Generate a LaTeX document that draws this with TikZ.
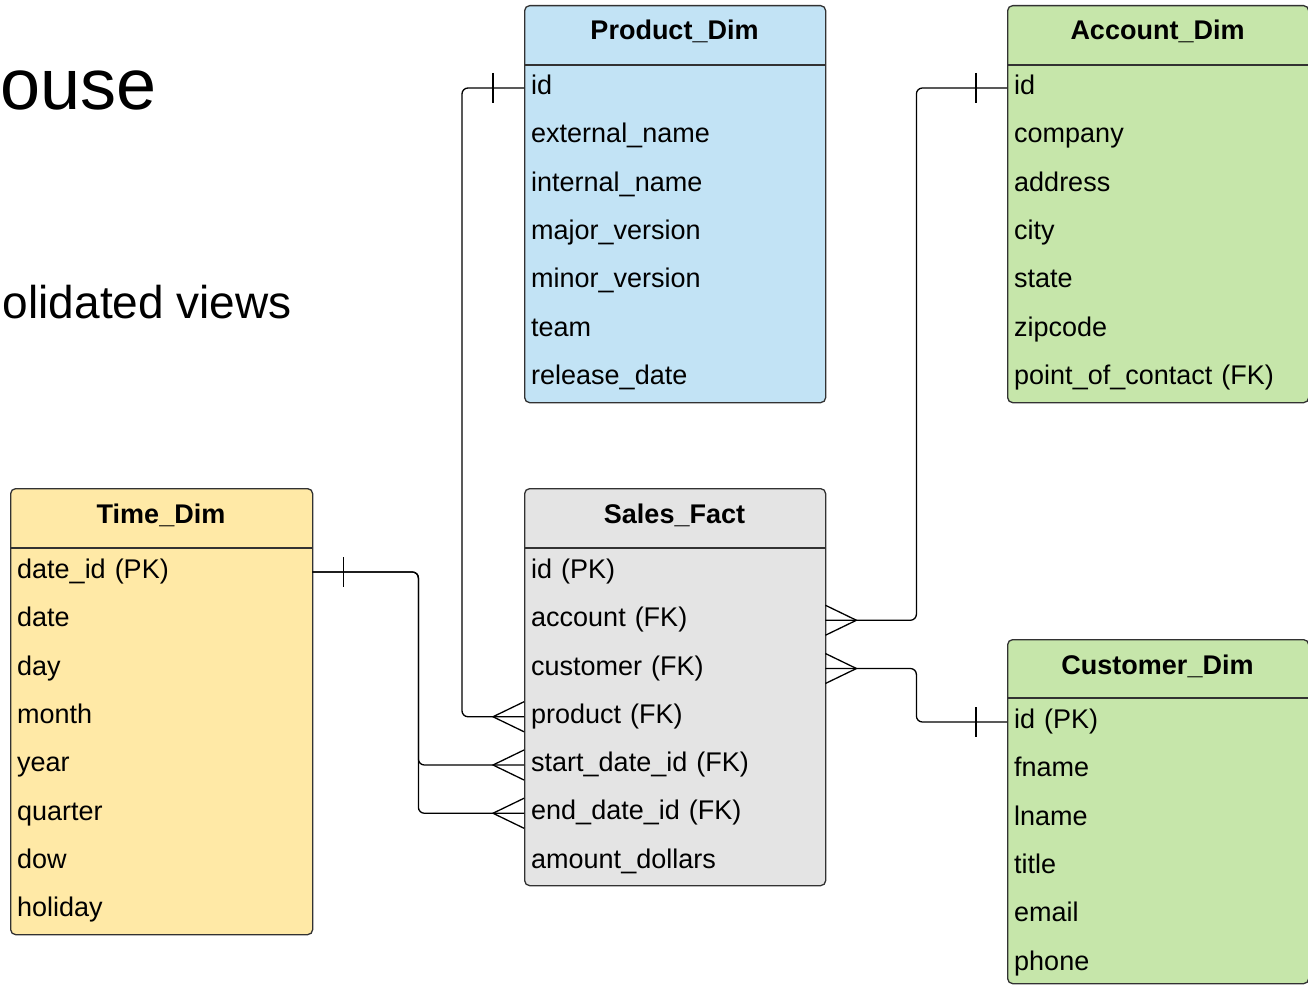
\documentclass[tikz,border=0pt]{standalone}
\usepackage{fontspec}
\setmainfont{Liberation Sans}
\definecolor{pblue}{RGB}{194,227,245}
\definecolor{pgreen}{RGB}{198,230,170}
\definecolor{pyellow}{RGB}{255,233,166}
\definecolor{pgray}{RGB}{228,228,228}
\definecolor{bord}{RGB}{50,50,50}
\begin{document}
\begin{tikzpicture}[x=1pt,y=-1pt,
  tbl/.style={draw=bord, line width=1.3pt, rounded corners=5pt, minimum width=301pt, anchor=north west, inner sep=0pt},
  row/.style={anchor=west, minimum width=301pt, minimum height=48pt, text width=287pt, inner xsep=7pt, inner ysep=0pt, text height=18pt, text depth=5pt, align=left, font=\fontsize{27}{32}\selectfont},
  ttl/.style={anchor=base, inner sep=0pt, font=\fontsize{27}{32}\selectfont\bfseries},
  big/.style={anchor=base east, inner sep=0pt},
  conn/.style={line width=1.3pt, rounded corners=6pt},
  tick/.style={line width=1.3pt}
]
\useasboundingbox (0,0) rectangle (1308,987);
\clip (0,0) rectangle (1308,987);

% heading fragments
\node[big, font=\fontsize{72}{80}\selectfont] (h1) at (157,110) {ouse};
\node[big, font=\fontsize{46}{52}\selectfont] (h2) at (292,318) {olidated views};

% Product_Dim
\node[tbl, fill=pblue, minimum height=397pt] (prod) at (524,5) {};
\draw[draw=bord, line width=1.3pt] ([yshift=-60pt]prod.north west) -- ([yshift=-60pt]prod.north east);
\node[ttl] (prodt) at (674.5,40) {Product\_Dim};
\foreach \t [count=\i] in {id,external\_name,internal\_name,major\_version,minor\_version,team,release\_date}
  \node[row] (p\i) at (524,{88+48.33*(\i-1)}) {\t};

% Account_Dim
\node[tbl, fill=pgreen, minimum height=397pt] (acct) at (1007,5) {};
\draw[draw=bord, line width=1.3pt] ([yshift=-60pt]acct.north west) -- ([yshift=-60pt]acct.north east);
\node[ttl] (acctt) at (1157.5,40) {Account\_Dim};
\foreach \t [count=\i] in {id,company,address,city,state,zipcode,point\_of\_contact (FK)}
  \node[row] (a\i) at (1007,{88+48.33*(\i-1)}) {\t};

% Time_Dim
\node[tbl, fill=pyellow, minimum height=446pt, minimum width=302pt] (time) at (10,488) {};
\draw[draw=bord, line width=1.3pt] ([yshift=-60pt]time.north west) -- ([yshift=-60pt]time.north east);
\node[ttl] (timet) at (161,523) {Time\_Dim};
\foreach \t [count=\i] in {date\_id (PK),date,day,month,year,quarter,dow,holiday}
  \node[row, minimum width=302pt, text width=288pt] (t\i) at (10,{572+48.33*(\i-1)}) {\t};

% Sales_Fact
\node[tbl, fill=pgray, minimum height=397pt] (sales) at (524,488) {};
\draw[draw=bord, line width=1.3pt] ([yshift=-60pt]sales.north west) -- ([yshift=-60pt]sales.north east);
\node[ttl] (salest) at (674.5,523) {Sales\_Fact};
\foreach \t [count=\i] in {id (PK),account (FK),customer (FK),product (FK),start\_date\_id (FK),end\_date\_id (FK),amount\_dollars}
  \node[row] (s\i) at (524,{572+48.25*(\i-1)}) {\t};

% Customer_Dim
\node[tbl, fill=pgreen, minimum height=344pt] (cust) at (1007,639) {};
\draw[draw=bord, line width=1.3pt] ([yshift=-59pt]cust.north west) -- ([yshift=-59pt]cust.north east);
\node[ttl] (custt) at (1157.5,674) {Customer\_Dim};
\foreach \t [count=\i] in {id (PK),fname,lname,title,email,phone}
  \node[row] (c\i) at (1007,{722+48.33*(\i-1)}) {\t};

% connectors
\draw[conn] (p1.west) -- ++(-62,0) |- (s4.west);
\draw[conn] (t1.east) -- ++(106,0) |- (s5.west);
\draw[conn] (t1.east) -- ++(106,0) |- (s6.west);
\draw[conn] (s2.east) -- ++(91,0) |- (a1.west);
\draw[conn] (s3.east) -- ++(91,0) |- (c1.west);

% one-bars
\draw[tick] ([xshift=-31pt,yshift=15pt]p1.west) -- ([xshift=-31pt,yshift=-15pt]p1.west);
\draw[tick] ([xshift=-31pt,yshift=15pt]a1.west) -- ([xshift=-31pt,yshift=-15pt]a1.west);
\draw[tick] ([xshift=-31pt,yshift=15pt]c1.west) -- ([xshift=-31pt,yshift=-15pt]c1.west);
\draw[tick] ([xshift=31pt,yshift=15pt]t1.east) -- ([xshift=31pt,yshift=-15pt]t1.east);

% crow's feet
\foreach \n in {s4,s5,s6}
  \draw[tick] ([yshift=15pt]\n.west) -- ([xshift=-31pt]\n.west) -- ([yshift=-15pt]\n.west);
\foreach \n in {s2,s3}
  \draw[tick] ([yshift=15pt]\n.east) -- ([xshift=31pt]\n.east) -- ([yshift=-15pt]\n.east);
\end{tikzpicture}
\end{document}
